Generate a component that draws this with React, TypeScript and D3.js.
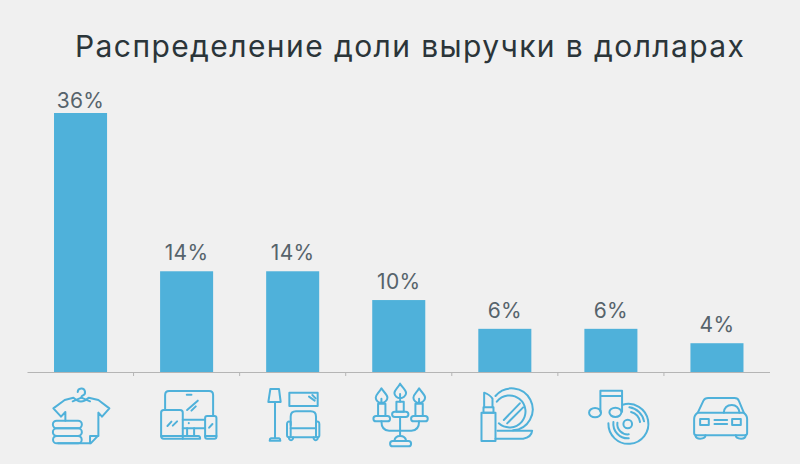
import * as d3 from 'd3'

const categories = ['clothes', 'electronics', 'furniture', 'home', 'beauty', 'media', 'auto']
const shares = [36, 14, 14, 10, 6, 6, 4]
const title = 'Распределение доли выручки в долларах'

const blue = '#4fb1da'

// icons are traced in 3x pixels, cx is the x that sits under the bar centre
const icons: Record<string, { cx: number; paths: string[] }> = {
  clothes: {
    cx: 151.5,
    paths: [
      'M143 96 a11 11 0 1 1 14 11 q-3 1 -3 6',
      'M106 182 V156 L93 170 L70 145 L104 120 L130 113 Q152 136 176 113 L205 120 L238 145 L216 170 L205 158 V226 L182 250 H84',
      'M154 113 L128 124 M154 113 L180 124',
      'M80 182 H144 a11 11 0 0 1 0 23 H80 a11 11 0 0 1 0 -23 Z',
      'M80 205 H144 a11 11 0 0 1 0 23 H80 a11 11 0 0 1 0 -23 Z',
      'M80 228 H144 a11 11 0 0 1 0 22 H80 a11 11 0 0 1 0 -22 Z',
      'M180 250 V228 H205',
    ],
  },
  electronics: {
    cx: 469.5,
    paths: [
      'M405 150 V105 Q405 93 417 93 H537 Q549 93 549 105 V167',
      'M470 104 H484',
      'M471 150 L503 122 M484 152 L497 139',
      'M401 150 H450 Q458 150 458 158 V236 H401 Q393 236 393 228 V158 Q393 150 401 150 Z',
      'M393 228 H458 M412 198 L424 185 M428 197 L441 184',
      'M458 179 H525 M458 205 H525 M476 189 V190',
      'M471 205 V228 M492 205 V228 M458 228 H505 Q510 228 510 236 H458',
      'M531 168 H553 Q559 168 559 174 V230 Q559 236 553 236 H531 Q525 236 525 230 V174 Q525 168 531 168 Z',
      'M525 228 H559 M537 203 L547 192',
    ],
  },
  furniture: {
    cx: 789,
    paths: [
      'M722 87 H748 L753 126 H716 Z',
      'M736 126 V235 M724 235 H748 Q752 236 752 242 H720 Q720 236 724 235 Z',
      'M779 98 H864 V138 H779 Z',
      'M838 110 L855 122 M848 105 L858 115',
      'M783 195 V170 Q783 154 799 154 H843 Q859 154 859 170 V195',
      'M783 205 H859',
      'M783 232 H778 Q772 232 772 226 V192 Q772 182 783 186 V232 H859 V186 Q869 182 869 192 V226 Q869 232 864 232 H859',
      'M778 232 V236 Q784 246 790 236 V232 M852 232 V236 Q858 246 864 236 V232',
    ],
  },
  home: {
    cx: 147,
    paths: [
      'M95 85 C88 98 78 104 78 113 C78 122 87 129 95 129 C103 129 113 122 113 113 C113 104 103 98 95 85 Z M95 116 V129',
      'M151 71 C144 84 134 90 134 99 C134 108 143 115 151 115 C159 115 169 108 169 99 C169 90 159 84 151 71 Z M151 102 V125',
      'M208 85 C201 98 191 104 191 113 C191 122 200 129 208 129 C216 129 226 122 226 113 C226 104 216 98 208 85 Z M208 116 V129',
      'M85 131 H107 V168 H85 Z M197 131 H219 V168 H197 Z M140 125 H162 V155 H140 Z',
      'M79 168 H113 a8 8 0 0 1 0 16 H79 a8 8 0 0 1 0 -16 Z',
      'M192 168 H226 a8 8 0 0 1 0 16 H192 a8 8 0 0 1 0 -16 Z',
      'M135 155 H168 a8 8 0 0 1 0 16 H135 a8 8 0 0 1 0 -16 Z',
      'M95 184 Q95 212 118 212 H185 Q208 212 208 184',
      'M151 171 V228',
      'M134 242 Q136 228 151 228 Q167 228 169 242',
      'M129 243 H176 a8 8 0 0 1 0 16 H129 a8 8 0 0 1 0 -16 Z',
    ],
  },
  beauty: {
    cx: 465,
    paths: [
      'M395 158 H437 V243 H395 Z',
      'M401 142 H431 V158 H401 Z',
      'M403 142 V98 Q420 104 428 116 V142',
      'M437 108 A63 63 0 1 1 490 211',
      'M441 125 A48 48 0 1 1 447 190',
      'M462 180 L510 130 M472 190 L520 142',
      'M443 212 H547 Q545 232 520 236 H437',
    ],
  },
  media: {
    cx: 154.5,
    paths: [
      'M123 155 V92 H188 V155 M123 108 H188',
      'M125 158 a18 14 0 1 1 -36 0 a18 14 0 1 1 36 0 Z',
      'M186 157 a18 14 0 1 1 -36 0 a18 14 0 1 1 36 0 Z',
      'M190 134 A60 60 0 1 1 147 190',
      'M218 192 a13 13 0 1 1 -26 0 a13 13 0 1 1 26 0 Z',
      'M215 156 A38 38 0 0 1 242 186 M210 142 A52 52 0 0 1 254 184',
      'M162 186 A44 44 0 0 0 208 235 M174 188 A31 31 0 0 0 208 223',
    ],
  },
  auto: {
    cx: 472.5,
    paths: [
      'M415 158 L432 122 Q436 114 446 114 H525 Q535 114 538 122 L553 158',
      'M415 158 H552 Q563 165 563 178 V220 Q563 226 555 226 H412 Q404 226 404 220 V178 Q404 165 415 158 Z',
      'M408 226 V228 Q410 236 422 236 Q438 236 438 226 M529 226 Q529 236 545 236 Q558 236 559 226',
      'M422 177 H448 V195 H422 Z M518 177 H544 V195 H518 Z',
      'M465 180 H503 M465 192 H503',
      'M493 158 Q495 135 517 135 Q537 135 540 158',
    ],
  },
}

const width = 800
const height = 464
const baseline = 372

export default function App() {
  const x = d3.scaleBand<string>().domain(categories).range([27.5, 770]).padding(0)
  const y = d3.scaleLinear().domain([0, 36]).range([baseline, 113])
  const barWidth = x.bandwidth() / 2
  const ticks = categories.slice(1).map((c) => x(c)!)

  return (
    <svg
      width={width}
      height={height}
      style={{ position: 'absolute', left: 0, top: 0, display: 'block', background: '#f0f0f0' }}
    >
      <text
        x={75}
        y={57}
        fontFamily="Inter"
        fontSize={30}
        fill="#2b3539"
        textLength={669}
        lengthAdjust="spacing"
      >
        {title}
      </text>

      {categories.map((c, i) => {
        const center = x(c)! + x.bandwidth() / 2
        return (
          <g key={c}>
            <rect
              x={center - barWidth / 2}
              y={y(shares[i])}
              width={barWidth}
              height={baseline - y(shares[i])}
              fill={blue}
            />
            <text
              x={center}
              y={y(shares[i]) - (shares[i] === 36 ? 5 : 11)}
              textAnchor="middle"
              fontFamily="Inter"
              fontSize={21}
              letterSpacing={0.3}
              fill="#56636b"
            >
              {shares[i]}%
            </text>
            <g
              transform={`translate(${center},${baseline}) scale(${1 / 3}) translate(${-icons[c].cx},-36)`}
              fill="none"
              stroke={blue}
              strokeWidth={6}
              strokeLinejoin="round"
              strokeLinecap="round"
            >
              {icons[c].paths.map((d) => (
                <path key={d} d={d} />
              ))}
            </g>
          </g>
        )
      })}

      <line x1={27.5} x2={770} y1={baseline + 0.5} y2={baseline + 0.5} stroke="#b5b5b5" />
      {ticks.map((t) => (
        <line key={t} x1={t} x2={t} y1={baseline} y2={baseline + 4} stroke="#b5b5b5" />
      ))}
    </svg>
  )
}
